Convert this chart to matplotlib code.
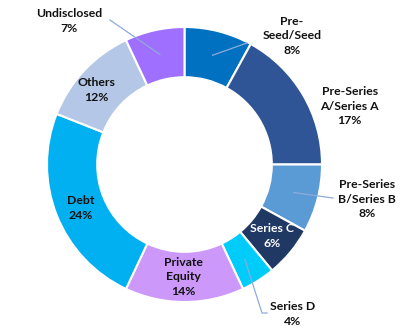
"""
Funding by stage — donut chart.
"""

import numpy as np
import matplotlib.pyplot as plt

plt.rcParams.update({
    "font.family": ["Lato", "DejaVu Sans"],
    "font.weight": "bold",
})

stages = ["Pre-\nSeed/Seed", "Pre-Series\nA/Series A", "Pre-Series\nB/Series B",
          "Series C", "Series D", "Private\nEquity", "Debt", "Others", "Undisclosed"]
shares = [8, 17, 8, 6, 4, 14, 24, 12, 7]
colors = ["#0070C0", "#2F5597", "#5B9BD5", "#203864", "#00CCFA",
          "#CC99FA", "#00B0F0", "#B4C7E7", "#9F6FFF"]

# label centres (data units, radius 1 = outer edge)
label_pos = [(0.782, 0.935), (1.202, 0.425), (1.327, -0.251), (0.636, -0.520),
             (0.789, -1.087), (-0.011, -0.818), (-0.753, -0.316), (-0.644, 0.542),
             (-0.840, 1.044)]
# leader lines: label index -> elbow points after the wedge anchor
leaders = {
    0: [(0.455, 0.884)],
    2: [(1.08, -0.244)],
    4: [(0.564, -1.08), (0.60, -1.08)],
    8: [(-0.542, 1.051)],
}

fig = plt.figure(figsize=(4.0, 3.32), dpi=100)
ax = fig.add_axes([0, 0, 1, 1])

wedges, _ = ax.pie(shares, colors=colors, startangle=90, counterclock=False,
                   radius=1.0, wedgeprops=dict(width=0.365, edgecolor="white", linewidth=1.5))

for i, (w, lab, val) in enumerate(zip(wedges, stages, shares)):
    x, y = label_pos[i]
    tc = "white" if lab == "Series C" else "#111111"
    ax.text(x, y, f"{lab}\n{val}%", ha="center", va="center", fontsize=8.8,
            color=tc, linespacing=1.4, fontweight="bold")
    if i in leaders:
        ang = np.deg2rad((w.theta1 + w.theta2) / 2)
        pts = [(0.82 * np.cos(ang), 0.82 * np.sin(ang))] + leaders[i]
        xs, ys = zip(*pts)
        ax.plot(xs, ys, color="#8FAADC", linewidth=0.9)

ax.set_xlim(-184.5 / 137.5, (400 - 184.5) / 137.5)
ax.set_ylim(-(332 - 164.5) / 137.5, 164.5 / 137.5)
ax.set_aspect("equal")
ax.axis("off")

plt.savefig("out.png", dpi=100)
